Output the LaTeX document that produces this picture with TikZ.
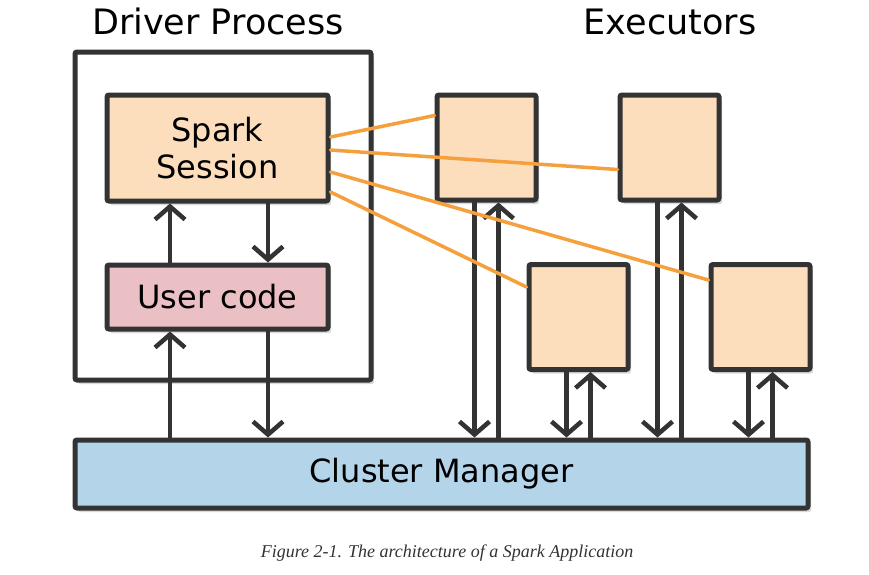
\documentclass[tikz,border=0pt]{standalone}
\usepackage{fontspec}
\setmainfont{DejaVu Sans}
\newfontfamily\capfont{Liberation Serif}
\usepackage{tikz}
\usetikzlibrary{positioning,arrows.meta,shadows}

\definecolor{ink}{HTML}{333333}
\definecolor{peach}{HTML}{FCDEBC}
\definecolor{userpink}{HTML}{EBC0C4}
\definecolor{cmblue}{HTML}{B4D4EA}
\definecolor{sparkorange}{HTML}{F5A03C}

\begin{document}
\begin{tikzpicture}[
    x=1pt, y=-1pt,
    box/.style={
        rectangle, rounded corners=2pt,
        draw=ink, line width=5pt,
        inner sep=0pt, align=center,
        font=\fontsize{32}{37}\selectfont,   % chữ trong hộp
        drop shadow={shadow xshift=3pt, shadow yshift=-4pt, opacity=0.3}
    },
    exec/.style={box, fill=peach, minimum width=99pt, minimum height=105pt},
    title/.style={anchor=base, font=\fontsize{35}{40}\selectfont},
    flow/.style={-{Straight Barb[length=13pt,width=30pt]}, line width=4.5pt, draw=ink, line cap=round},
    link/.style={line width=3.5pt, draw=sparkorange, line cap=round},
    node distance=59pt
]
\useasboundingbox (0,0) rectangle (869,574);

% --- Driver Process ---
\node[title] (drvtitle) at (218,34) {Driver Process};
\node[box, fill=white, minimum width=296pt, minimum height=328pt] (driver) at (223,216) {};
\node[box, fill=peach, minimum width=221pt, minimum height=106pt] (spark) at (217.5,148) {Spark\\Session};
\node[box, fill=userpink, minimum width=221pt, minimum height=64pt, below=of spark] (user) {User code};

% --- Executors ---
\node[title] (exectitle) at (670,34) {Executors};
\node[exec] (e1) at (486.5,147.5) {};
\node[exec, right=79pt of e1] (e2) {};
\node[exec] (e3) at (578.5,317) {};
\node[exec, right=78pt of e3] (e4) {};

% --- Cluster Manager ---
\node[box, fill=cmblue, minimum width=733pt, minimum height=68pt] (cm) at (441.5,474) {Cluster Manager};

% --- Mũi tên trong driver ---
\draw[flow] ([xshift=-47.5pt]user.north) -- ([xshift=-47.5pt]spark.south);
\draw[flow] ([xshift=50.5pt]spark.south) -- ([xshift=50.5pt]user.north);
\draw[flow] ([xshift=-47.5pt]user.south |- cm.north) -- ([xshift=-47.5pt]user.south);
\draw[flow] ([xshift=50.5pt]user.south) -- ([xshift=50.5pt]user.south |- cm.north);

% --- Mũi tên executor <-> cluster manager ---
\foreach \ex in {e1,e2,e3,e4} {
    \draw[flow] ([xshift=-12pt]\ex.south) -- ([xshift=-12pt]\ex.south |- cm.north);
    \draw[flow] ([xshift=12pt]\ex.south |- cm.north) -- ([xshift=12pt]\ex.south);
}

% --- Đường nối Spark Session -> executors ---
\draw[link] ([yshift=11pt]spark.east) -- ([yshift=32pt]e1.west);
\draw[link] ([yshift=-2pt]spark.east) -- ([yshift=-22pt]e2.west);
\draw[link] ([yshift=-24pt]spark.east) -- ([yshift=37pt]e4.west);
\draw[link] ([yshift=-44pt]spark.east) -- ([yshift=30pt]e3.west);

% --- Chú thích ---
\node[font=\capfont\itshape\fontsize{18}{21}\selectfont, text=ink] (caption) at (447,553) {Figure 2-1. The architecture of a Spark Application};

\end{tikzpicture}
\end{document}
